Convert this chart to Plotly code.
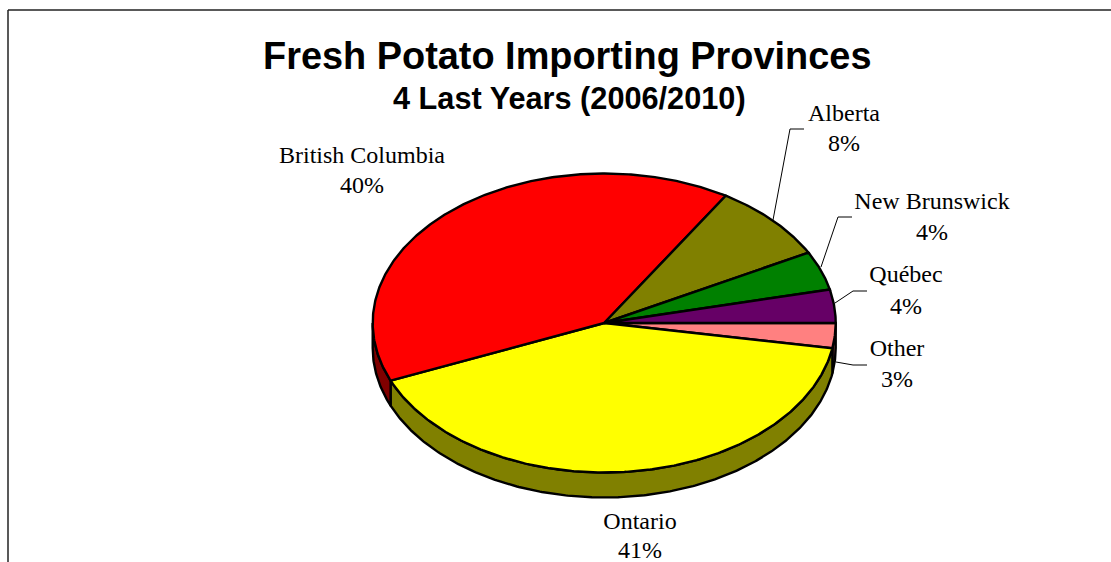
#!/usr/bin/env python3
"""Fresh potato importing provinces: tilted 3D-look pie drawn with filled scatter traces."""

import numpy as np
import plotly.graph_objects as go

# ─── data ─────────────────────────────────────────────────────────────────────
provinces = ["Other", "Ontario", "British Columbia", "Alberta", "New Brunswick", "Québec"]
shares = [2.7, 41.0, 40.1, 8.4, 4.2, 3.6]

TOP_COLORS = ["#FF8080", "#FFFF00", "#FF0000", "#808000", "#008000", "#660066"]
SIDE_COLORS = ["#804040", "#808000", "#800000", "#404000", "#004000", "#330033"]

# label anchors in pixels: (name y, percent y) and x
LABEL_X = [897, 640, 362, 844, 932, 906]
LABEL_Y1 = [350, 523, 157, 115, 203, 276]
LABEL_Y2 = [381, 552, 187, 145, 234, 308]

# leader lines, None where the label sits right by its slice
LEADERS = [
    [(836, 362), (853, 365), (867, 365)],
    None,
    None,
    [(773, 220), (790, 129), (804, 129)],
    [(821, 267), (838, 217), (852, 217)],
    [(835, 303), (853, 291), (867, 291)],
]

CX, CY = 604.2, 323.0
RX, RY = 231.5, 149.5
DEPTH = 25
OUTLINE = "#000000"


def rim(t0, t1, dy=0.0):
    t = np.radians(np.linspace(t0, t1, max(int(abs(t1 - t0)) * 2, 2) + 1))
    return CX + RX * np.cos(t), CY + dy + RY * np.sin(t)


def polygon(x, y, color):
    return go.Scatter(
        x=x, y=y, mode="lines", fill="toself", fillcolor=color,
        line=dict(color=OUTLINE, width=2.4), hoverinfo="skip", showlegend=False,
    )


fig = go.Figure()

# slice boundaries in degrees, clockwise from 3 o'clock on screen
edges = np.cumsum([0] + shares) * 360 / sum(shares)

# ── pie wall: only the front half can be seen ──
for i in range(len(shares)):
    t0, t1 = edges[i], min(edges[i + 1], 180)
    if t0 >= 180:
        continue
    xa, ya = rim(t0, t1)
    xb, yb = rim(t1, t0, DEPTH)
    fig.add_trace(polygon(np.r_[xa, xb, xa[0]], np.r_[ya, yb, ya[0]], SIDE_COLORS[i]))

# ── pie top ──
for i in range(len(shares)):
    xa, ya = rim(edges[i], edges[i + 1])
    fig.add_trace(polygon(np.r_[CX, xa, CX], np.r_[CY, ya, CY], TOP_COLORS[i]))

# ── leader lines ──
for pts in LEADERS:
    if pts:
        fig.add_trace(go.Scatter(
            x=[p[0] for p in pts], y=[p[1] for p in pts], mode="lines",
            line=dict(color="#000000", width=1), hoverinfo="skip", showlegend=False,
        ))

# ── labels ──
fig.add_trace(go.Scatter(
    x=LABEL_X + LABEL_X,
    y=LABEL_Y1 + LABEL_Y2,
    text=provinces + [f"{s:.0f}%" for s in shares],
    mode="text",
    textposition="middle center",
    textfont=dict(family="Liberation Serif", size=24, color="#000000"),
    hoverinfo="skip", showlegend=False,
))

# chart frame: left and top edge only, the rest is cropped away
fig.add_shape(type="line", x0=8, x1=8, y0=10, y1=562, line=dict(color="#222222", width=1.5))
fig.add_shape(type="line", x0=8, x1=1111, y0=10, y1=10, line=dict(color="#222222", width=1.5))

fig.add_annotation(x=566.5, y=56, text="<b>Fresh Potato Importing Provinces</b>", showarrow=False,
                   font=dict(family="Liberation Sans", size=37.9, color="#000000"))
fig.add_annotation(x=569, y=98, text="<b>4 Last Years (2006/2010)</b>", showarrow=False,
                   font=dict(family="Liberation Sans", size=30.7, color="#000000"))

fig.update_layout(
    width=1111, height=562,
    margin=dict(l=0, r=0, t=0, b=0),
    paper_bgcolor="white", plot_bgcolor="white",
    xaxis=dict(range=[0, 1111], visible=False, fixedrange=True),
    yaxis=dict(range=[562, 0], visible=False, fixedrange=True),
)

fig.write_html("out.html", config=dict(displayModeBar=False),
               post_script="document.body.style.margin='0';document.body.style.overflow='hidden';")
